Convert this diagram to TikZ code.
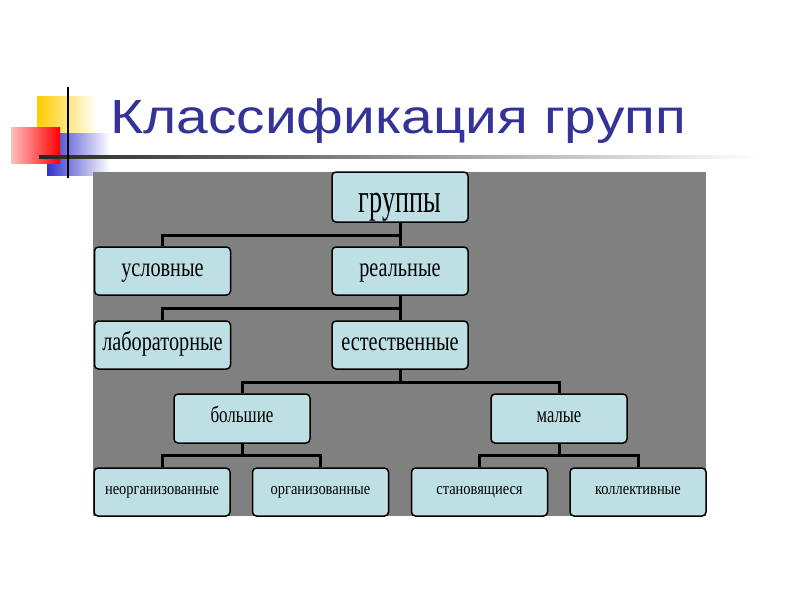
\documentclass[tikz,border=0pt]{standalone}
\usepackage{fontspec}
\setmainfont{Liberation Serif}
\newfontfamily\titlefont{Liberation Sans}
\usetikzlibrary{calc}
\definecolor{boxfill}{RGB}{190,224,228}
\definecolor{panelgrey}{RGB}{128,128,128}
\definecolor{titleblue}{RGB}{51,51,153}
\definecolor{logoyellow}{RGB}{255,204,0}
\definecolor{logored}{RGB}{255,0,0}
\definecolor{logoblue}{RGB}{51,51,204}
% #1 baseline drop below centre, #2 horizontal scale, #3 font size, #4 text
\newcommand\bx[4]{\raisebox{-#1}{\scalebox{#2}[1]{\fontsize{#3}{#3}\selectfont #4}}}
\begin{document}
\begin{tikzpicture}[x=1pt,y=-1pt,
  box/.style={draw=black, line width=1.5pt, fill=boxfill, rounded corners=4pt,
    minimum width=136pt, minimum height=48pt, inner sep=0pt,
    text height=0pt, text depth=0pt},
  conn/.style={line width=3pt, black}]
\useasboundingbox (0,0) rectangle (800,600);
\fill[white] (0,0) rectangle (800,600);
% logo
\shade[left color=logoyellow, right color=white] (37,96) rectangle (97,133);
\shade[left color=logoblue, right color=white] (47,133) rectangle (110,175);
\shade[left color=white!75!logored, right color=logored] (11,127) rectangle (60,163);
\shade[left color=black!85, right color=white] (39,155.5) rectangle (760,158.5);
\draw[line width=2pt] (68,87) -- (68,178);
% title
\node[anchor=base west, text=titleblue, inner sep=0pt] (title) at (110,133)
  {\scalebox{1.185}[1]{\titlefont\fontsize{48}{50}\selectfont Классификация групп}};
% panel
\fill[panelgrey] (93,172) rectangle (706,516);
% boxes
\node[box, minimum height=50pt] (g) at (400,197) {\bx{15.5pt}{0.64}{41}{группы}};
\node[box] (u) at (162.5,271) {\bx{5pt}{0.75}{27}{условные}};
\node[box] (r) at (400,271) {\bx{5pt}{0.75}{27}{реальные}};
\node[box] (l) at (162.5,345) {\bx{5pt}{0.75}{27}{лабораторные}};
\node[box] (e) at (400,345) {\bx{5pt}{0.75}{27}{естественные}};
\node[box, minimum height=49pt] (b) at (242,418.5) {\bx{3.5pt}{0.74}{23}{большие}};
\node[box, minimum height=49pt] (m) at (559,418.5) {\bx{3.5pt}{0.72}{23}{малые}};
\node[box] (n1) at (162,492) {\bx{2.3pt}{0.85}{17}{неорганизованные}};
\node[box] (n2) at (320.5,492) {\bx{2.3pt}{0.85}{17}{организованные}};
\node[box] (n3) at (479.5,492) {\bx{2.3pt}{0.85}{17}{становящиеся}};
\node[box] (n4) at (638,492) {\bx{2.3pt}{0.85}{17}{коллективные}};
% connectors
\draw[conn] (g.south) -- (r.north);
\draw[conn] ($(g.south)+(0,13)$) -| (u.north);
\draw[conn] (r.south) -- (e.north);
\draw[conn] ($(r.south)+(0,13)$) -| (l.north);
\draw[conn] (e.south) -- ++(0,13) -| (b.north);
\draw[conn] ($(e.south)+(0,13)$) -| (m.north);
\draw[conn] (b.south) -- ++(0,12) -| (n1.north);
\draw[conn] ($(b.south)+(0,12)$) -| (n2.north);
\draw[conn] (m.south) -- ++(0,12) -| (n3.north);
\draw[conn] ($(m.south)+(0,12)$) -| (n4.north);
\end{tikzpicture}
\end{document}
